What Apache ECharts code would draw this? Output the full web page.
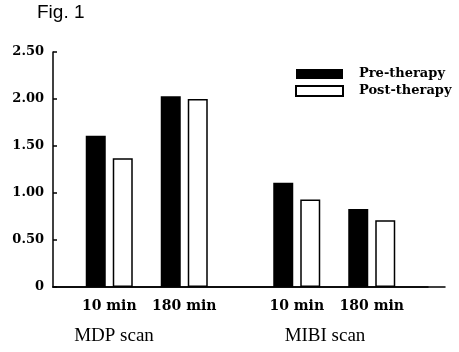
<!DOCTYPE html>
<html>
<head>
<meta charset="utf-8">
<script src="https://cdn.jsdelivr.net/npm/echarts@6/dist/echarts.min.js"></script>
<style>html,body{margin:0;padding:0;background:#fff}#c{width:459px;height:352px}</style>
</head>
<body>
<div id="c"></div>
<script>
// ---- data ----
const timeLabels = ['10 min', '180 min', '10 min', '180 min'];
const scanLabels = ['MDP scan', 'MIBI scan'];
const preTherapy = [1.61, 2.03, 1.11, 0.83];
const postTherapy = [1.37, 2.00, 0.93, 0.71];
const yTicks = [0, 0.5, 1.0, 1.5, 2.0, 2.5];
const seriesNames = ['Pre-therapy', 'Post-therapy'];

// ---- layout (slot positions of the groups on the category band) ----
const slotCount = 10;
const groupSlots = [1, 3, 6, 8];
const axisData = [];
const slotLabel = {};
for (let i = 0; i < slotCount; i++) { axisData.push('s' + i); }
groupSlots.forEach((s, i) => { slotLabel['s' + s] = timeLabels[i]; });
function spread(values) {
  const out = new Array(slotCount).fill('-');
  groupSlots.forEach((s, i) => { out[s] = values[i]; });
  return out;
}

const serifBold = {fontFamily: 'DejaVu Serif', fontWeight: 'bold', color: '#000'};
const yMin = yTicks[0], yMax = yTicks[yTicks.length - 1];

const chart = echarts.init(document.getElementById('c'), null, {renderer: 'canvas'});
chart.setOption({
  animation: false,
  backgroundColor: '#fff',
  grid: [
    {left: 53, top: 52, width: 375, bottom: 65, containLabel: false},
    {left: 53, top: 52, width: 392, bottom: 65, containLabel: false}
  ],
  legend: {
    orient: 'vertical', left: 295, top: 67, padding: 0,
    itemWidth: 47, itemHeight: 10, itemGap: 3, icon: 'rect',
    data: seriesNames,
    textStyle: Object.assign({fontSize: 13, lineHeight: 14, padding: [0, 0, 0, 11]}, serifBold)
  },
  xAxis: [
    {
      type: 'category', data: axisData, boundaryGap: true, gridIndex: 0,
      axisLine: {lineStyle: {color: '#000', width: 1.5}},
      axisTick: {show: false},
      axisLabel: Object.assign({interval: 0, fontSize: 14, margin: 12,
        formatter: v => slotLabel[v] || ''}, serifBold),
      splitLine: {show: false}
    },
    {
      type: 'value', gridIndex: 1, min: 0, max: 1,
      axisLine: {show: true, lineStyle: {color: '#000', width: 1.5}},
      axisTick: {show: false}, axisLabel: {show: false}, splitLine: {show: false}
    }
  ],
  yAxis: [
    {
      type: 'value', min: yMin, max: yMax, interval: 0.5, gridIndex: 0,
      axisLine: {show: true, lineStyle: {color: '#000', width: 1.5}},
      axisTick: {show: true, inside: true, length: 4, lineStyle: {color: '#000', width: 1.5}},
      axisLabel: Object.assign({fontSize: 13, margin: 9,
        formatter: v => v === 0 ? '0' : v.toFixed(2)}, serifBold),
      splitLine: {show: false}
    },
    {
      type: 'value', min: yMin, max: yMax, gridIndex: 1, show: false
    }
  ],
  series: [
    {name: seriesNames[0], type: 'bar', data: spread(preTherapy), barWidth: 20, barGap: '35%',
     itemStyle: {color: '#000', borderColor: '#000', borderWidth: 0}},
    {name: seriesNames[1], type: 'bar', data: spread(postTherapy), barWidth: 20,
     itemStyle: {color: '#fff', borderColor: '#000', borderWidth: 1.5}}
  ],
  graphic: [
    {type: 'text', left: 37, top: 3, style: {text: 'Fig. 1', font: '19px "Liberation Sans", Arial, sans-serif', fill: '#000'}},
    {type: 'text', x: 114, y: 336, style: {text: scanLabels[0], font: '19px "Liberation Serif", "Times New Roman", serif', fill: '#000', textAlign: 'center', textVerticalAlign: 'middle'}},
    {type: 'text', x: 325, y: 336, style: {text: scanLabels[1], font: '19px "Liberation Serif", "Times New Roman", serif', fill: '#000', textAlign: 'center', textVerticalAlign: 'middle'}}
  ]
});
</script>
</body>
</html>
